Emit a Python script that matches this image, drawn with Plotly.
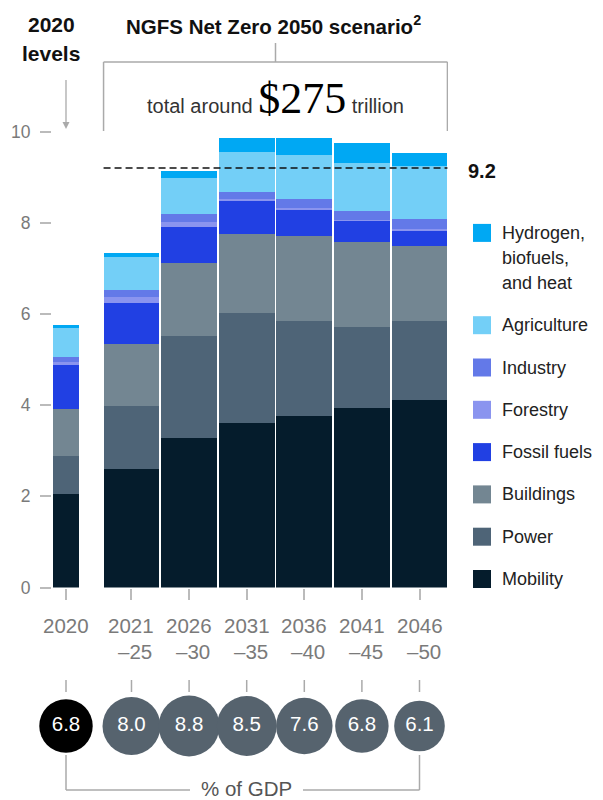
import plotly.graph_objects as go

# ---------------- data ----------------
period_line1 = ["2020", "2021", "2026", "2031", "2036", "2041", "2046"]
period_line2 = ["", "–25", "–30", "–35", "–40", "–45", "–50"]

# stacked segments, bottom to top ($ trillion)
mobility    = [2.04, 2.59, 3.27, 3.60, 3.77, 3.94, 4.12]
power       = [0.85, 1.40, 2.24, 2.41, 2.07, 1.78, 1.72]
buildings   = [1.02, 1.35, 1.60, 1.74, 1.86, 1.85, 1.65]
fossil      = [0.96, 0.89, 0.80, 0.73, 0.59, 0.47, 0.34]
forestry    = [0.08, 0.13, 0.11, 0.03, 0.03, 0.03, 0.04]
industry    = [0.10, 0.16, 0.16, 0.17, 0.19, 0.19, 0.22]
agriculture = [0.63, 0.72, 0.79, 0.88, 0.97, 1.06, 1.15]
hydrogen    = [0.08, 0.09, 0.17, 0.29, 0.37, 0.42, 0.28]

gdp_share = [6.8, 8.0, 8.8, 8.5, 7.6, 6.8, 6.1]
reference_level = 9.2
y_ticks = [0, 2, 4, 6, 8, 10]

series_names = ["Mobility", "Power", "Buildings", "Fossil fuels", "Forestry",
                "Industry", "Agriculture", "Hydrogen,<br>biofuels,<br>and heat"]
series_values = [mobility, power, buildings, fossil, forestry, industry, agriculture, hydrogen]
series_colors = ["#051c2c", "#4e6477", "#738692", "#2140e3", "#8a94ef",
                 "#6379e8", "#73cff7", "#00a8f3"]

# ---------------- layout constants ----------------
OFF = 8                      # page body margin of the html page
PAGE_W, PAGE_H = 603, 800
W, H = PAGE_W - OFF, PAGE_H - OFF
PLOT_LEFT_PX, PLOT_RIGHT_PX = 52, 448   # page pixels
L_M = PLOT_LEFT_PX - OFF
R_M = W - (PLOT_RIGHT_PX - OFF)
PX_X = 57.6            # px per x unit
GAP = 1.137            # offset between 2020 bar and scenario bars
xpos = [0.0] + [GAP + i for i in range(len(period_line1) - 1)]
widths = [0.45] + [0.97] * (len(xpos) - 1)
x_range = [xpos[0] - 14 / PX_X, xpos[-1] + 28.5 / PX_X]
Y0_PX = 587.5
PX_Y = 45.6
Y_MAX = 10.2

FONT = "Liberation Sans, Arial, sans-serif"
GREY_LINE = "#aaaaaa"
GREY_TEXT = "#7a7a7a"


def xp(px):
    """page pixel x -> paper x"""
    return (px - OFF - L_M) / (W - L_M - R_M)


def yp(py):
    """page pixel y -> paper y"""
    return 1 - (py - OFF) / H


def x_to_px(xv):
    return PLOT_LEFT_PX + (xv - x_range[0]) * PX_X


fig = go.Figure()

for name, vals, col in zip(series_names, series_values, series_colors):
    clean = name.replace("<br>", " ")
    fig.add_trace(go.Bar(
        x=xpos, y=vals, width=widths, name=clean,
        marker=dict(color=col, line=dict(width=0)),
        showlegend=False, xaxis="x", yaxis="y",
        hovertemplate="%{y}<extra>" + clean + "</extra>",
    ))

# % of GDP circles
circle_colors = ["#000000"] + ["#56636e"] * (len(gdp_share) - 1)
fig.add_trace(go.Scatter(
    x=xpos, y=[0] * len(gdp_share), mode="markers+text",
    marker=dict(size=gdp_share, sizemode="area", sizeref=2 / 20.5 ** 2,
                color=circle_colors, opacity=1, line=dict(width=0)),
    text=[f"{v:.1f}" for v in gdp_share], textposition="middle center",
    textfont=dict(family=FONT, size=20.5, color="white"),
    showlegend=False, xaxis="x", yaxis="y2", hoverinfo="skip", cliponaxis=False,
))

shapes = []
annotations = []

# dashed reference line
bx0 = xpos[1] - widths[1] / 2
bx1 = xpos[-1] + widths[-1] / 2
shapes.append(dict(type="line", xref="x", yref="y", x0=bx0, x1=bx1,
                   y0=reference_level, y1=reference_level,
                   line=dict(color="#111111", width=1.5, dash="7px,4px")))
annotations.append(dict(text=f"<b>{reference_level}</b>", xref="paper", yref="y",
                        x=xp(466), y=reference_level, xanchor="left", yanchor="middle",
                        showarrow=False, font=dict(family=FONT, size=20, color="#111111"),
                        yshift=-3))

# top bracket
shapes.append(dict(type="line", xref="x", yref="paper", x0=bx0, x1=bx1,
                   y0=yp(62), y1=yp(62), line=dict(color=GREY_LINE, width=1.5)))
for bx in (bx0, bx1):
    shapes.append(dict(type="line", xref="x", yref="paper", x0=bx, x1=bx,
                       y0=yp(62), y1=yp(131), line=dict(color=GREY_LINE, width=1.5)))
shapes.append(dict(type="line", xref="x", yref="paper", x0=(bx0 + bx1) / 2, x1=(bx0 + bx1) / 2,
                   y0=yp(43), y1=yp(62), line=dict(color=GREY_LINE, width=1.5)))

annotations.append(dict(text="<b>NGFS Net Zero 2050 scenario<sup>2</sup></b>",
                        xref="paper", yref="paper", x=xp(273), y=yp(25),
                        xanchor="center", yanchor="middle", showarrow=False,
                        font=dict(family=FONT, size=20.5, color="#111111")))
annotations.append(dict(text="<b>2020</b>", xref="paper", yref="paper", x=xp(51), y=yp(25),
                        xanchor="center", yanchor="middle", showarrow=False,
                        font=dict(family=FONT, size=21, color="#111111")))
annotations.append(dict(text="<b>levels</b>", xref="paper", yref="paper", x=xp(51), y=yp(54),
                        xanchor="center", yanchor="middle", showarrow=False,
                        font=dict(family=FONT, size=21, color="#111111")))

# "2020 levels" down arrow (line + small head)
ax_px = x_to_px(xpos[0])
shapes.append(dict(type="line", xref="paper", yref="paper", x0=xp(ax_px), x1=xp(ax_px),
                   y0=yp(80), y1=yp(124), line=dict(color=GREY_LINE, width=1.3)))
shapes.append(dict(type="path", xref="paper", yref="paper",
                   path=(f"M {xp(ax_px - 3.5)} {yp(122)} L {xp(ax_px + 3.5)} {yp(122)} "
                         f"L {xp(ax_px)} {yp(129)} Z"),
                   fillcolor=GREY_LINE, line=dict(width=0)))

annotations.append(dict(
    text="total around <span style='font-family:Liberation Serif, serif;font-size:44px;color:#000000'>$275</span> trillion",
    xref="x", yref="paper", x=(bx0 + bx1) / 2, y=yp(98),
    xanchor="center", yanchor="middle", showarrow=False,
    font=dict(family=FONT, size=20, color="#333333")))

# x tick labels (two lines, second right-aligned)
for x, l1, l2 in zip(xpos, period_line1, period_line2):
    annotations.append(dict(text=l1, xref="x", yref="paper", x=x, y=yp(625),
                            xanchor="center", yanchor="middle", showarrow=False,
                            font=dict(family=FONT, size=20.5, color=GREY_TEXT)))
    if l2:
        annotations.append(dict(text=l2, xref="x", yref="paper", x=x, y=yp(651),
                                xanchor="right", yanchor="middle", showarrow=False, xshift=23,
                                font=dict(family=FONT, size=20.5, color=GREY_TEXT)))
    # connector ticks above circles
    shapes.append(dict(type="line", xref="x", yref="paper", x0=x, x1=x,
                       y0=yp(680), y1=yp(692), line=dict(color=GREY_LINE, width=1.5)))

# % of GDP bracket
shapes.append(dict(type="line", xref="x", yref="paper", x0=xpos[0], x1=xpos[-1],
                   y0=yp(790), y1=yp(790), line=dict(color=GREY_LINE, width=1.5)))
for x in (xpos[0], xpos[-1]):
    shapes.append(dict(type="line", xref="x", yref="paper", x0=x, x1=x,
                       y0=yp(755), y1=yp(790), line=dict(color=GREY_LINE, width=1.5)))
shapes.append(dict(type="rect", xref="paper", yref="paper", x0=xp(190), x1=xp(303),
                   y0=yp(785), y1=yp(795), fillcolor="white", line=dict(width=0)))
annotations.append(dict(text="% of GDP", xref="paper", yref="paper", x=xp(246), y=yp(788),
                        xanchor="center", yanchor="middle", showarrow=False,
                        font=dict(family=FONT, size=20.5, color="#555555")))

# manual legend (top to bottom)
LEG_SQ_X0, LEG_SQ = 473, 18
LEG_TXT_X = 500
LEG_STEP = 42.3
LINE_H = 25
y_center = 579
for name, col in zip(series_names, series_colors):
    lines = name.split("<br>")
    first_y = y_center - (len(lines) - 1) * LINE_H
    shapes.append(dict(type="rect", xref="paper", yref="paper",
                       x0=xp(LEG_SQ_X0), x1=xp(LEG_SQ_X0 + LEG_SQ),
                       y0=yp(first_y - LEG_SQ / 2), y1=yp(first_y + LEG_SQ / 2),
                       fillcolor=col, line=dict(width=0)))
    for k, ln in enumerate(lines):
        annotations.append(dict(text=ln, xref="paper", yref="paper",
                                x=xp(LEG_TXT_X), y=yp(first_y + k * LINE_H),
                                xanchor="left", yanchor="middle", showarrow=False,
                                font=dict(family=FONT, size=18, color="#222222")))
    y_center = first_y - LEG_STEP

fig.update_layout(
    width=W, height=H,
    margin=dict(l=L_M, r=R_M, t=0, b=0, autoexpand=False),
    paper_bgcolor="white", plot_bgcolor="white",
    barmode="stack", showlegend=False,
    font=dict(family=FONT, color=GREY_TEXT),
    xaxis=dict(range=x_range, tickvals=xpos, showticklabels=False, ticks="outside",
               ticklen=11, tickwidth=1.5, tickcolor="#bbbbbb", showgrid=False,
               zeroline=False, showline=False, anchor="y", fixedrange=True),
    yaxis=dict(domain=[yp(Y0_PX), yp(Y0_PX - Y_MAX * PX_Y)], range=[0, Y_MAX],
               tickvals=y_ticks, ticks="outside", ticklen=11, tickwidth=1.5,
               tickcolor="#bbbbbb", ticklabelstandoff=6,
               tickfont=dict(family=FONT, size=17.5, color=GREY_TEXT),
               showgrid=False, zeroline=False, showline=False, anchor="x",
               automargin=False, fixedrange=True),
    yaxis2=dict(domain=[0, 2 * yp(726)], range=[-1, 1], visible=False, anchor="x",
                fixedrange=True),
    shapes=shapes, annotations=annotations,
)

fig.write_html("out.html")
